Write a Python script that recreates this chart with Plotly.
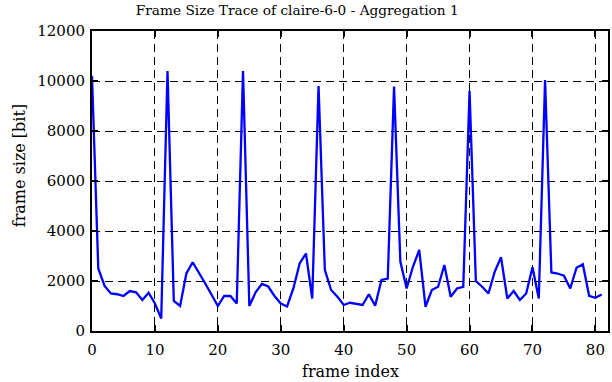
import plotly.graph_objects as go

frame_index = list(range(82))
frame_size = [
    10200, 2500, 1800, 1500, 1470, 1400, 1600, 1550, 1240, 1530,
    1100, 500, 10400, 1200, 1000, 2300, 2750, 2350, 1900, 1450,
    1000, 1400, 1400, 1100, 10400, 1000, 1550, 1880, 1780, 1400,
    1100, 980, 1700, 2700, 3100, 1300, 9800, 2450, 1640, 1370,
    1040, 1130, 1070, 1040, 1470, 1010, 2040, 2100, 9780, 2780,
    1700, 2570, 3240, 970, 1640, 1770, 2640, 1370, 1700, 1770,
    9600, 2000, 1770, 1500, 2370, 2950, 1300, 1600, 1240, 1500,
    2550, 1300, 10040, 2340, 2300, 2210, 1700, 2530, 2670, 1410,
    1330, 1460,
]

x_ticks = [0, 10, 20, 30, 40, 50, 60, 70, 80]
y_ticks = [0, 2000, 4000, 6000, 8000, 10000, 12000]

title_text = "Frame Size Trace of claire-6-0 - Aggregation 1"
x_title = "frame index"
y_title = "frame size [bit]"

FONT = "DejaVu Serif"

fig = go.Figure()
fig.add_trace(go.Scatter(
    x=frame_index, y=frame_size, mode="lines",
    line=dict(color="#0000ff", width=2.3),
    showlegend=False,
))

axis_common = dict(
    showline=True, linecolor="black", linewidth=2, mirror="ticks",
    ticks="inside", ticklen=6, tickwidth=1.5, tickcolor="black",
    showgrid=True, gridcolor="black", gridwidth=1, griddash="8px,5px",
    zeroline=False, tickformat="d",
    tickfont=dict(family=FONT, size=15, color="black"),
)

fig.update_layout(
    width=612, height=382,
    margin=dict(l=92, r=2, t=31, b=51),
    paper_bgcolor="white", plot_bgcolor="white",
    title=dict(text=title_text, x=(298 - 92) / 518, xref="paper", xanchor="center",
               y=1 - 10 / 382, yanchor="middle",
               font=dict(family=FONT, size=13.7, color="black")),
    xaxis=dict(range=[0, 82], tickvals=x_ticks, ticklabelstandoff=4, **axis_common),
    yaxis=dict(range=[0, 12000], tickvals=y_ticks, ticklabelstandoff=2, **axis_common),
    annotations=[
        dict(text=y_title, textangle=-90, showarrow=False,
             xref="paper", yref="paper",
             x=(19 - 92) / 518, y=(331 - 166) / 300,
             xanchor="center", yanchor="middle",
             font=dict(family=FONT, size=16, color="black")),
        dict(text=x_title, showarrow=False,
             xref="paper", yref="paper",
             x=(352 - 92) / 518, y=(331 - 371) / 300,
             xanchor="center", yanchor="middle",
             font=dict(family=FONT, size=16, color="black")),
    ],
)

fig.write_html("out.html", config={"displayModeBar": False},
               post_script="document.body.style.margin='0';")
